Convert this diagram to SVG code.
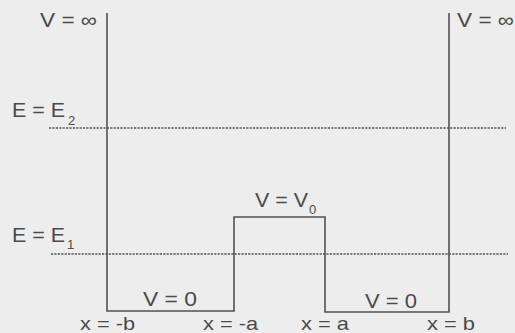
<svg xmlns="http://www.w3.org/2000/svg" width="515" height="333" viewBox="0 0 515 333">
<style>
.t{font-family:"Liberation Sans",Arial,sans-serif;font-size:20px;fill:#4a4a4a}
.b{font-family:"Liberation Sans",Arial,sans-serif;font-size:19px;fill:#4a4a4a}
.s{font-family:"Liberation Sans",Arial,sans-serif;font-size:13px;fill:#4a4a4a}
.w{fill:none;stroke:#505050;stroke-width:1.6}
.d{fill:none;stroke:#555;stroke-width:1.4;stroke-dasharray:2.2 1.2}
</style>
<rect width="515" height="333" fill="#ededed"/>
<g id="potential">
<path class="w" d="M107,13 V311 H234 V217 H325 V312 H449 V13"/>
</g>
<g id="levels">
<line class="d" x1="49" y1="128" x2="506" y2="128"/>
<line class="d" x1="51" y1="254" x2="508" y2="254"/>
</g>
<g id="labels">
<text class="t" x="40" y="27" textLength="57" lengthAdjust="spacingAndGlyphs">V = ∞</text>
<text class="t" x="457" y="27" textLength="57" lengthAdjust="spacingAndGlyphs">V = ∞</text>
<text class="t" x="12" y="117" textLength="53" lengthAdjust="spacingAndGlyphs">E = E</text>
<text class="s" x="68" y="125">2</text>
<text class="t" x="12" y="242" textLength="53" lengthAdjust="spacingAndGlyphs">E = E</text>
<text class="s" x="67" y="249">1</text>
<text class="t" x="255" y="207" textLength="53" lengthAdjust="spacingAndGlyphs">V = V</text>
<text class="s" x="309" y="214">0</text>
<text class="t" x="143" y="306" textLength="54" lengthAdjust="spacingAndGlyphs">V = 0</text>
<text class="t" x="365" y="308" textLength="52" lengthAdjust="spacingAndGlyphs">V = 0</text>
<text class="b" x="80" y="330" textLength="55" lengthAdjust="spacingAndGlyphs">x = -b</text>
<text class="b" x="203" y="330" textLength="55" lengthAdjust="spacingAndGlyphs">x = -a</text>
<text class="b" x="301" y="330" textLength="48" lengthAdjust="spacingAndGlyphs">x = a</text>
<text class="b" x="427" y="330" textLength="48" lengthAdjust="spacingAndGlyphs">x = b</text>
</g>
</svg>
